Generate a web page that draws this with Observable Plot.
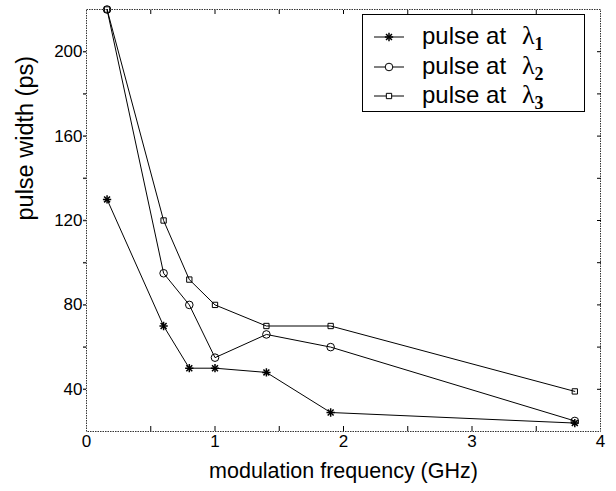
<!DOCTYPE html>
<html><head><meta charset="utf-8">
<script src="https://cdn.jsdelivr.net/npm/d3@7"></script>
<script src="https://cdn.jsdelivr.net/npm/@observablehq/plot@0.6"></script>
<style>
body{margin:0;background:#fff;}
#chart{position:relative;width:616px;height:491px;font-family:"Liberation Sans",Arial,sans-serif;}
#legend{position:absolute;left:0;top:0;pointer-events:none;}
</style></head><body><div id="chart"></div>
<script>
// modulation frequency (GHz)
const freq = [0.16, 0.6, 0.8, 1.0, 1.4, 1.9, 3.8];
// pulse width (ps) for each wavelength
const pulse1 = [130, 70, 50, 50, 48, 29, 24];
const pulse2 = [220, 95, 80, 55, 66, 60, 25];
const pulse3 = [220, 120, 92, 80, 70, 70, 39];
const seriesIds = ["1", "2", "3"];
const legendPrefix = "pulse at";
const xTicks = [0, 1, 2, 3, 4];
const xMinorTicks = [0.5, 1, 1.5, 2, 2.5, 3, 3.5];
const yTicks = [40, 80, 120, 160, 200];
const yMinorTicks = [40, 60, 80, 100, 120, 140, 160, 180, 200];
const xTitle = "modulation frequency (GHz)";
const yTitle = "pulse width (ps)";

const allPulses = [pulse1, pulse2, pulse3];
const rows = [];
allPulses.forEach((arr, si) => arr.forEach((w, i) => rows.push({s: seriesIds[si], f: freq[i], w})));
const bySeries = id => rows.filter(d => d.s === id);

const W = 616, H = 491;
const plot = Plot.plot({
  width: W, height: H,
  marginLeft: 86, marginRight: 16, marginTop: 9, marginBottom: 60,
  style: {fontFamily: '"Liberation Sans", Arial, sans-serif', background: "#fff", color: "#000"},
  x: {domain: [0, 4]},
  y: {domain: [20, 220]},
  marks: [
    Plot.frame({stroke: "#333", strokeDasharray: "1.5,1"}),
    Plot.axisY({ticks: yMinorTicks, tickSize: 3, tickPadding: 1, fontSize: 17,
      tickFormat: d => yTicks.includes(d) ? String(d) : "", label: null, line: true, stroke: "#333", strokeWidth: 1.5}),
    Plot.axisY({anchor: "right", ticks: yMinorTicks, tickSize: 4, insetRight: 4, tickFormat: () => "", label: null}),
    Plot.axisX({ticks: xMinorTicks, tickSize: 5, insetBottom: 5, tickFormat: () => "", label: null}),
    Plot.axisX({anchor: "top", ticks: xMinorTicks, tickSize: 4, insetTop: 4, tickFormat: () => "", label: null}),
    Plot.axisX({ticks: xTicks, tickSize: 0, tickPadding: 3, fontSize: 17, tickFormat: d => String(d), label: null, line: true, stroke: "#333", strokeWidth: 1.5}),
    Plot.text([xTitle], {frameAnchor: "bottom", dy: 46, fontSize: 21.5}),
    Plot.text([yTitle], {frameAnchor: "left", dx: -61, rotate: -90, fontSize: 23.5}),
    Plot.line(rows, {x: "f", y: "w", z: "s", stroke: "#000", strokeWidth: 1}),
    Plot.dot(bySeries("1"), {x: "f", y: "w", symbol: "plus", r: 2.8, stroke: "#000", strokeWidth: 1.5}),
    Plot.dot(bySeries("1"), {x: "f", y: "w", symbol: "times", r: 2.8, stroke: "#000", strokeWidth: 1.5}),
    Plot.dot(bySeries("2"), {x: "f", y: "w", symbol: "circle", r: 3.8, stroke: "#000", fill: "none", strokeWidth: 1}),
    Plot.dot(bySeries("3"), {x: "f", y: "w", symbol: "square", r: 3, stroke: "#000", fill: "none", strokeWidth: 1})
  ]
});
const chart = document.getElementById("chart");
chart.appendChild(plot);

// legend overlay
const lg = d3.select(chart).append("svg").attr("id", "legend").attr("width", W).attr("height", H);
lg.append("rect").attr("x", 362.5).attr("y", 14.5).attr("width", 222).attr("height", 97)
  .attr("fill", "#fff").attr("stroke", "#000").attr("stroke-width", 1);
const rowY = [37, 67, 96];
const legendSyms = [[d3.symbolPlus, d3.symbolTimes], [d3.symbolCircle], [d3.symbolSquare]];
const legendR = [2.8, 3.8, 3];
seriesIds.forEach((id, i) => {
  const g = lg.append("g").attr("transform", `translate(0,${rowY[i]})`);
  g.append("line").attr("x1", 374).attr("x2", 404).attr("y1", 0).attr("y2", 0).attr("stroke", "#000");
  legendSyms[i].forEach(sym => {
    g.append("path").attr("transform", "translate(389,0)")
      .attr("d", d3.symbol(sym, Math.PI * legendR[i] * legendR[i])())
      .attr("fill", i === 0 ? "none" : "#fff").attr("stroke", "#000").attr("stroke-width", i === 0 ? 1.5 : 1);
  });
  const t = g.append("text").attr("x", 422).attr("y", 7).attr("font-size", 24)
    .attr("font-family", '"Liberation Sans", Arial, sans-serif');
  t.append("tspan").text(legendPrefix);
  t.append("tspan").attr("x", 522).attr("font-family", '"Liberation Serif", serif').attr("font-size", 26).text("λ");
  t.append("tspan").attr("dy", 6).attr("font-family", '"Liberation Serif", serif').attr("font-weight", "bold").attr("font-size", 18).text(id);
});
</script></body></html>
